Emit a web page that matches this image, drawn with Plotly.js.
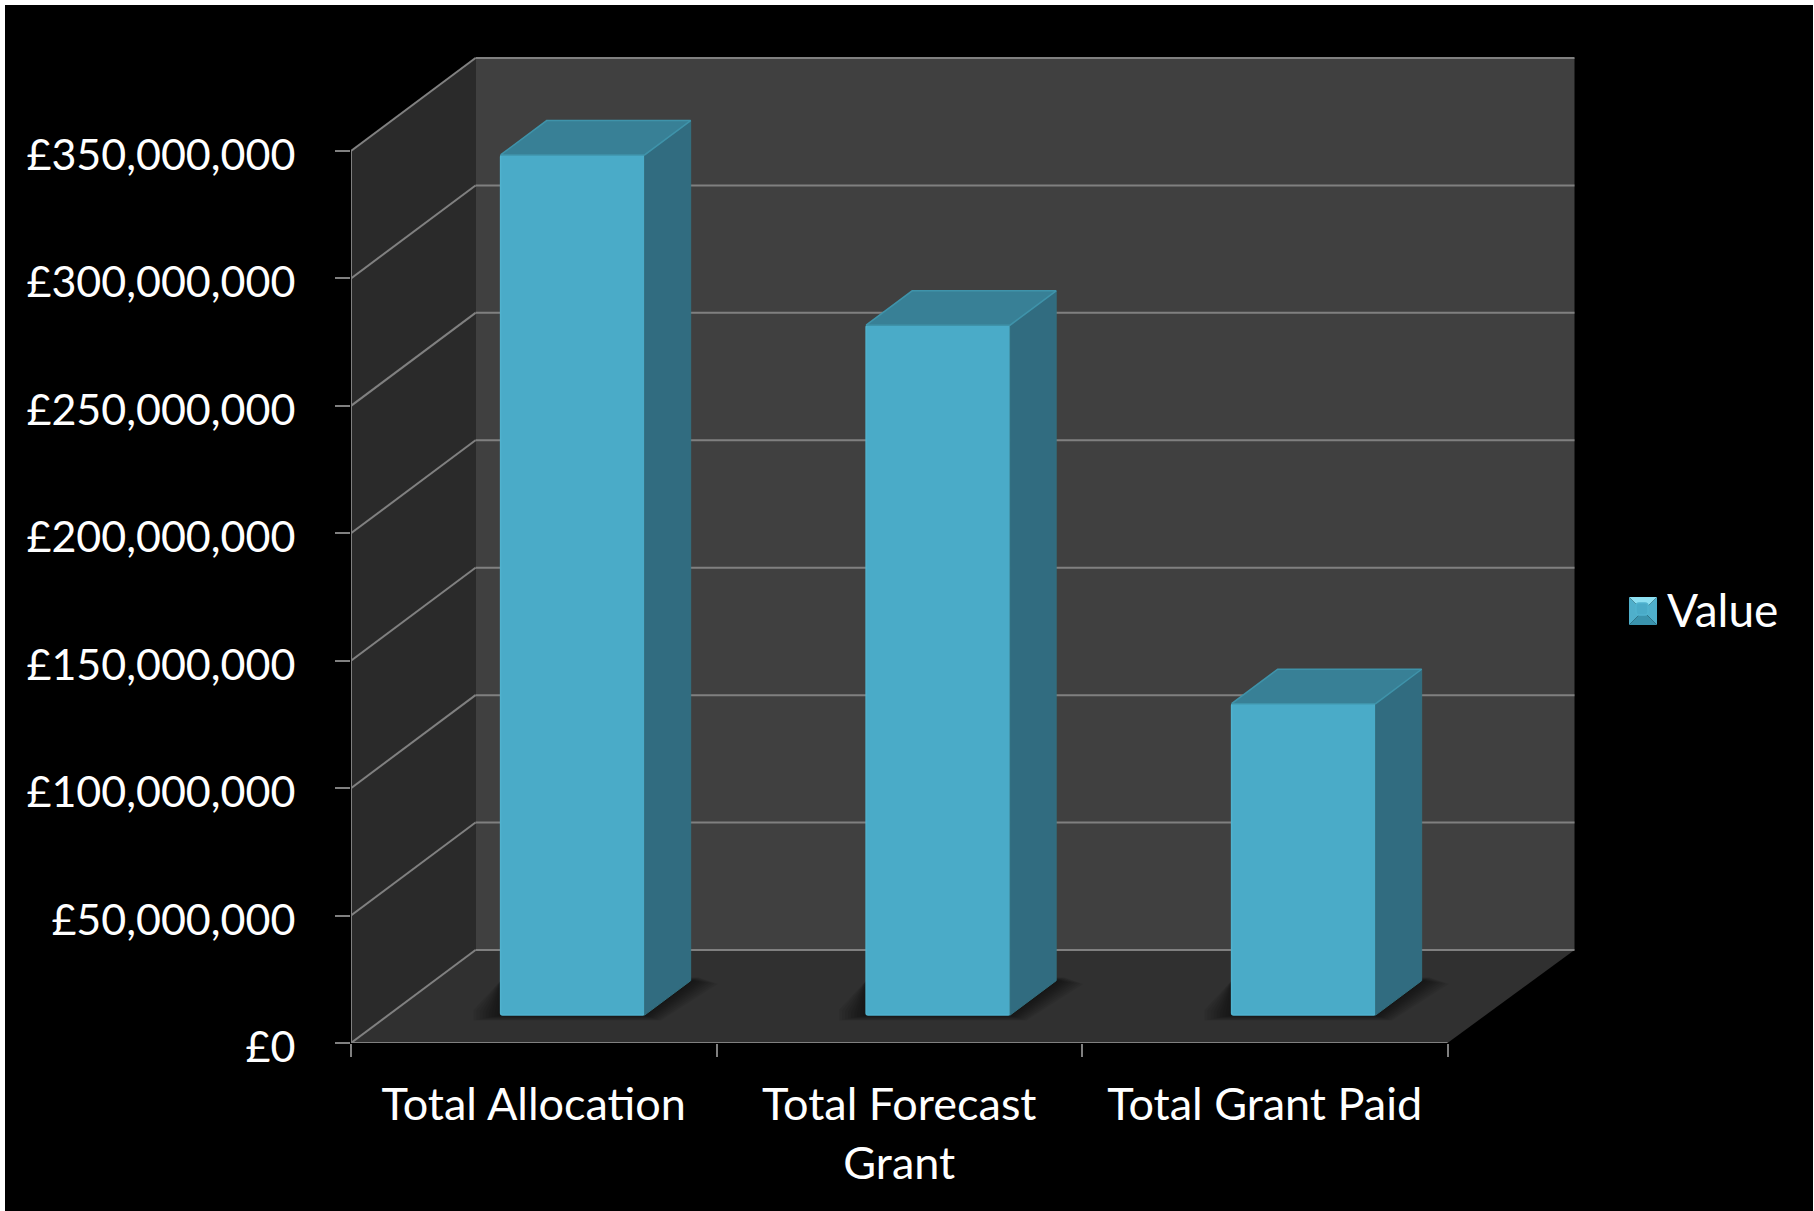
<!DOCTYPE html>
<html>
<head>
<meta charset="utf-8">
<script src="https://cdn.plot.ly/plotly-3.0.1.min.js"></script>
<style>
html,body{margin:0;padding:0;background:#fff;overflow:hidden}
#chart{position:absolute;left:5px;top:5px;width:1808px;height:1206px;background:#000}
</style>
</head>
<body>
<div id="chart"></div>
<script>
// ---- data ----
const categories = ['Total Allocation', 'Total Forecast<br>Grant', 'Total Grant Paid'];
const values = [337.5e6, 270.7e6, 122.2e6];
const seriesName = 'Value';
const yTicks = [0, 50e6, 100e6, 150e6, 200e6, 250e6, 300e6, 350e6];
const yTickLabels = ['£0', '£50,000,000', '£100,000,000', '£150,000,000', '£200,000,000', '£250,000,000', '£300,000,000', '£350,000,000'];
const xBoundaries = [0, 1, 2, 3];

// ---- projection constants, in axis units ----
const PX_X = 1 / 365.5;            // category units per pixel
const PX_Y = 350e6 / 892;          // value units per pixel
const DX = 124.5 * PX_X;           // full depth of the box, x shift
const DY = 93 * PX_Y;              // full depth of the box, y shift
const BACK_EXTRA = 2.5 * PX_X;     // back wall runs a touch wider than the front edge
const Z0 = 0.30, Z1 = 0.67;        // bar front / back depth
const BAR_W = 0.394;
const BAR_SHIFT = 1.5 * PX_X;
const xRange = [0, 1226 * PX_X];
const yRange = [0, 987 * PX_Y];

const FONT = 'Lato, Carlito, "Open Sans", sans-serif';
const LINE = '#808080';

const poly = pts => 'M' + pts.map(p => p[0] + ',' + p[1]).join('L') + 'Z';
const seg = (x0, y0, x1, y1) => ({type:'line', xref:'x', yref:'y', layer:'below', x0, y0, x1, y1,
  line:{color:LINE, width:2}});
const fillShape = (pts, color) => ({type:'path', xref:'x', yref:'y', layer:'below', path:poly(pts),
  fillcolor:color, line:{width:0}});

const xEnd = xBoundaries[xBoundaries.length - 1];
const yTop = yTicks[yTicks.length - 1];
const xBack = xEnd + DX + BACK_EXTRA;

const shapes = [];
// walls and floor
shapes.push(fillShape([[0,0],[DX,DY],[DX,yTop+DY],[0,yTop]], '#2a2a2a'));
shapes.push(fillShape([[DX,DY],[xBack,DY],[xBack,yTop+DY],[DX,yTop+DY]], '#404040'));
shapes.push(fillShape([[0,0],[xEnd,0],[xBack,DY],[DX,DY]], '#303030'));
// gridlines on both walls
yTicks.forEach(v => {
  shapes.push(seg(0, v, DX, v + DY));
  shapes.push(seg(DX, v + DY, xBack, v + DY));
});
// soft shadows on the floor
const centers = categories.map((c, i) => i + 0.5 + Z0 * DX + BAR_SHIFT);
centers.forEach(cx => {
  const xl = cx - BAR_W / 2, xr = cx + BAR_W / 2;
  const y0 = Z0 * DY, dz = (Z1 - Z0);
  [27, 24, 21, 18, 15, 12, 9, 6, 3].forEach(s => {
    const sx = s * PX_X, sb = s * 0.2 * PX_Y, st = s * 0.12 * PX_Y;
    shapes.push(fillShape([
      [xl - sx, y0 - sb],
      [xr + sx * 0.6, y0 - sb],
      [xr + dz * DX + sx, y0 + dz * DY - st],
      [xr + dz * DX + sx * 0.3, y0 + dz * DY + st],
      [xl, y0 + dz * DY],
      [xl - sx, y0 + sb]
    ], 'rgba(0,0,0,0.065)'));
  });
});

// legend swatch, bevelled as in the picture
const W = xRange[1] / PX_X, H = yRange[1] / PX_Y;
const px = x => (x - 351) / W, py = y => (1043 - y) / H;
const sL = 1629, sR = 1657, sT = 597, sB = 625, sCx = 1643, sCy = 611;
const swatch = (pts, color) => ({type:'path', xref:'paper', yref:'paper', layer:'above',
  path:poly(pts.map(p => [px(p[0]), py(p[1])])), fillcolor:color, line:{width:0}});
shapes.push(swatch([[sL,sT],[sR,sT],[sCx,sCy]], '#8de0f2'));
shapes.push(swatch([[sL,sT],[sCx,sCy],[sL,sB]], '#4fafcb'));
shapes.push(swatch([[sR,sT],[sCx,sCy],[sR,sB]], '#4fafcb'));
shapes.push(swatch([[sL,sB],[sCx,sCy],[sR,sB]], '#3a93ad'));

const traces = [];
// front faces: a real bar trace
traces.push({type:'bar', name:seriesName, x:centers, y:values, base:values.map(() => Z0 * DY),
  width:BAR_W, marker:{color:'#4aabc8', line:{color:'#50b3cf', width:1.5}, cornerradius:2},
  showlegend:true, hoverinfo:'y'});
// side and top faces derived from the same values
values.forEach((v, i) => {
  const xl = centers[i] - BAR_W / 2, xr = centers[i] + BAR_W / 2;
  const yb = Z0 * DY, yt = yb + v, ddx = (Z1 - Z0) * DX, ddy = (Z1 - Z0) * DY;
  traces.push({type:'scatter', mode:'lines', x:[xr, xr+ddx, xr+ddx, xr, xr], y:[yb, yb+ddy, yt+ddy, yt, yb],
    fill:'toself', fillcolor:'#316c80', line:{color:'#33707f', width:1}, showlegend:false, hoverinfo:'skip'});
  traces.push({type:'scatter', mode:'lines', x:[xl, xr, xr+ddx, xl+ddx, xl], y:[yt, yt, yt+ddy, yt+ddy, yt],
    fill:'toself', fillcolor:'#388096', line:{color:'#3f93aa', width:1.5}, showlegend:false, hoverinfo:'skip'});
});
// front axis lines, with the category boundary ticks on the overlaid axis
traces.push({type:'scatter', mode:'lines', xaxis:'x2', x:[0, 0, xEnd], y:[yTop, 0, 0], cliponaxis:false,
  line:{color:LINE, width:2}, showlegend:false, hoverinfo:'skip'});

const layout = {
  width:1808, height:1206, autosize:false,
  margin:{l:346, t:51, r:236, b:168, pad:0},
  paper_bgcolor:'#000', plot_bgcolor:'rgba(0,0,0,0)',
  font:{family:FONT, color:'#fff', size:45},
  barmode:'overlay',
  xaxis:{range:xRange, tickmode:'array', tickvals:categories.map((c, i) => i + 0.5), ticktext:categories,
    ticks:'', showgrid:false, zeroline:false, showline:false, ticklabelstandoff:31, tickangle:0,
    tickfont:{family:FONT, size:45, color:'#fff'}},
  xaxis2:{range:xRange, overlaying:'x', side:'bottom', anchor:'y', tickmode:'array', tickvals:xBoundaries,
    ticks:'outside', ticklen:13, tickwidth:2, tickcolor:LINE, showticklabels:false, showgrid:false,
    zeroline:false, showline:false},
  yaxis:{range:yRange, tickmode:'array', tickvals:yTicks, ticktext:yTickLabels,
    ticks:'outside', ticklen:15, tickwidth:2, tickcolor:LINE, showgrid:false, zeroline:false, showline:false,
    ticklabelstandoff:31, ticklabelshift:4, tickfont:{family:FONT, size:43, color:'#fff'}},
  showlegend:true,
  legend:{x:px(1617), xanchor:'left', y:py(609), yanchor:'middle', bgcolor:'rgba(0,0,0,0)', borderwidth:0,
    itemwidth:40, font:{family:FONT, size:46, color:'#fff'}},
  shapes:shapes
};
Plotly.newPlot('chart', traces, layout, {displayModeBar:false, responsive:false});
</script>
</body>
</html>
